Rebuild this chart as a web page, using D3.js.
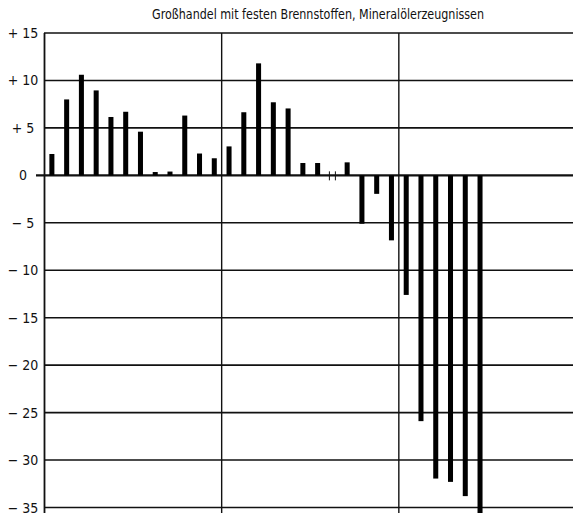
<!DOCTYPE html>
<html>
<head>
<meta charset="utf-8">
<script src="https://unpkg.com/d3@7/dist/d3.min.js"></script>
<style>
  body { margin: 0; background: #fff; }
  text { font-family: "DejaVu Sans Condensed", "Liberation Sans Narrow", sans-serif; fill: #111; }
</style>
</head>
<body>
<div class="panel"></div>
<script>
// monthly change in % (36 slots = 3 years, 30 filled)
const months = d3.range(1, 37);
const values = [2.25, 8.0, 10.6, 8.95, 6.15, 6.7, 4.6, 0.35, 0.4, 6.3, 2.3, 1.8,
                3.05, 6.65, 11.8, 7.7, 7.05, 1.3, 1.3, 0, 1.37, -5.1, -1.95, -6.85,
                -12.6, -25.9, -31.95, -32.3, -33.8, -37];
const yTicks = [15, 10, 5, 0, -5, -10, -15, -20, -25, -30, -35];
const yearBreaks = [1, 13, 25];
const title = "Großhandel mit festen Brennstoffen, Mineralölerzeugnissen";

const width = 573;
const height = 513;

const svg = d3.select(".panel")
  .append("svg")
  .attr("width", width)
  .attr("height", height);

const x = d3.scaleBand()
  .domain(months)
  .range([44.5, 576])
  .paddingInner(0.66)
  .paddingOuter(0.33);

const y = d3.scaleLinear()
  .domain([-35, 15])
  .range([507.5, 33]);

function fmt(d) {
  if (d > 0) return "+ " + d;
  if (d < 0) return "\u2212 " + Math.abs(d);
  return "0";
}

// horizontal grid
svg.append("g")
  .selectAll("line")
  .data(yTicks)
  .join("line")
  .attr("x1", d => d === 0 ? 36 : 44)
  .attr("x2", width)
  .attr("y1", d => y(d))
  .attr("y2", d => y(d))
  .attr("stroke", "#111")
  .attr("stroke-width", d => d === 0 ? 2.2 : 1.6);

// vertical year lines
svg.append("g")
  .selectAll("line")
  .data(yearBreaks)
  .join("line")
  .attr("x1", d => x(d) - x.step() * x.paddingInner() / 2)
  .attr("x2", d => x(d) - x.step() * x.paddingInner() / 2)
  .attr("y1", y(15))
  .attr("y2", height)
  .attr("stroke", "#111")
  .attr("stroke-width", d => d === 1 ? 1.8 : 1.4);

// y labels
svg.append("g")
  .selectAll("text")
  .data(yTicks)
  .join("text")
  .attr("x", 23)
  .attr("y", d => y(d))
  .attr("dy", "0.36em")
  .attr("text-anchor", "middle")
  .attr("font-size", 14)
  .text(fmt);

// bars
const bars = values.map((v, i) => ({ m: months[i], v }));
svg.append("g")
  .selectAll("rect")
  .data(bars.filter(d => d.v !== 0))
  .join("rect")
  .attr("x", d => x(d.m))
  .attr("width", x.bandwidth())
  .attr("y", d => y(Math.max(0, d.v)))
  .attr("height", d => Math.abs(y(d.v) - y(0)))
  .attr("fill", "#000");

// zero month marked with small ticks
const zeros = bars.filter(d => d.v === 0);
svg.append("g")
  .selectAll("g")
  .data(zeros)
  .join("g")
  .each(function(d) {
    const cx = x(d.m) + x.bandwidth() / 2;
    d3.select(this).selectAll("line")
      .data([-3, 3])
      .join("line")
      .attr("x1", o => cx + o)
      .attr("x2", o => cx + o)
      .attr("y1", y(0) - 4)
      .attr("y2", y(0) + 5)
      .attr("stroke", "#111")
      .attr("stroke-width", 1);
  });

// title
svg.append("text")
  .attr("x", 318)
  .attr("y", 19)
  .attr("text-anchor", "middle")
  .attr("font-size", 14)
  .attr("textLength", 332)
  .attr("lengthAdjust", "spacingAndGlyphs")
  .text(title);
</script>
</body>
</html>
